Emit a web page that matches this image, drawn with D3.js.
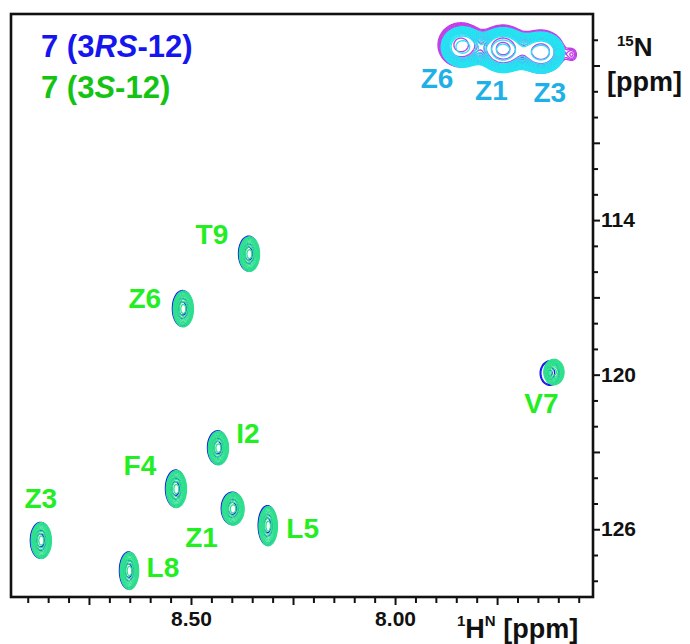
<!DOCTYPE html>
<html>
<head>
<meta charset="utf-8">
<title>1H-15N HSQC overlay</title>
<script src="https://d3js.org/d3.v7.min.js"></script>
<style>
  body { margin: 0; background: #fff; }
  text { font-family: "Liberation Sans", Arial, sans-serif; font-weight: bold; }
</style>
</head>
<body>
<script>
// backbone amide cross peaks: 1H (ppm), 15N (ppm)
const residues = ["Z3", "L8", "F4", "Z6", "Z1", "I2", "L5", "T9", "V7"];
// 7 (3RS-12), blue
const hRS = [8.870, 8.654, 8.539, 8.522, 8.400, 8.436, 8.314, 8.360, 7.622];
const nRS = [126.41, 127.58, 124.40, 117.41, 125.17, 122.81, 125.83, 115.28, 119.92];
const ampRS = [1, 1, 1, 1, 1, 1, 1, 1, 0.8];
// 7 (3S-12), green
const hS = [8.868, 8.652, 8.537, 8.520, 8.398, 8.434, 8.312, 8.358, 7.612];
const nS = [126.42, 127.60, 124.42, 117.43, 125.19, 122.83, 125.86, 115.30, 119.88];
const ampS = [1, 1, 1, 1, 1, 1, 1, 1, 1];
// line widths (ppm)
const lwH = [0.011, 0.010, 0.011, 0.011, 0.012, 0.011, 0.010, 0.011, 0.011];
const lwN = [0.31, 0.32, 0.32, 0.31, 0.28, 0.29, 0.34, 0.30, 0.22];

// side chain cluster at the top
const zRes = ["Z6", "Z1", "Z3"];
// 3S (cyan)
const zH = [7.836, 7.737, 7.643];
const zN = [107.26, 107.38, 107.48];
const zAmp = [0.8, 1.0, 0.85];
const zWH = [0.028, 0.03, 0.03];
const zWN = [0.42, 0.44, 0.42];
// 3RS (magenta), with a small extra peak at 7.566 ppm
const zHRS = [7.840, 7.737, 7.643, 7.566];
const zNRS = [107.18, 107.32, 107.44, 107.56];
const zAmpRS = [0.8, 1.0, 0.85, 0.17];
const zWHRS = [0.03, 0.03, 0.03, 0.012];
const zWNRS = [0.46, 0.46, 0.44, 0.25];

const xMajor = [8.75, 8.50, 8.25, 8.00, 7.75];
const xLabels = ["", "8.50", "", "8.00", ""];
const yMajor = [108, 111, 114, 117, 120, 123, 126];
const yLabels = ["", "", "114", "", "120", "", "126"];

const W = 690, H = 644;
const L = 11, R = 593, T = 14, B = 597;

const svg = d3.select("body").append("svg")
    .attr("width", W).attr("height", H);

const x = d3.scaleLinear().domain([8.941, 7.515]).range([L, R]);
const y = d3.scaleLinear().domain([106.0, 128.63]).range([T, B]);

svg.append("clipPath").attr("id", "plot")
  .append("rect").attr("x", L).attr("y", T).attr("width", R - L).attr("height", B - T);

const gw = R - L, gh = B - T;
const path = d3.geoPath(d3.geoIdentity().translate([L, T]));

// sum of gaussian peaks on a pixel grid
function field(hs, ns, sh, sn, amp) {
  const v = new Float64Array(gw * gh);
  hs.forEach((h, k) => {
    const cx = x(h) - L, cy = y(ns[k]) - T;
    const sx = Math.abs(x(h + sh[k]) - x(h)), sy = Math.abs(y(ns[k] + sn[k]) - y(ns[k]));
    const a = amp[k];
    const i0 = Math.max(0, Math.floor(cx - 5 * sx)), i1 = Math.min(gw - 1, Math.ceil(cx + 5 * sx));
    const j0 = Math.max(0, Math.floor(cy - 5 * sy)), j1 = Math.min(gh - 1, Math.ceil(cy + 5 * sy));
    for (let j = j0; j <= j1; j++) {
      for (let i = i0; i <= i1; i++) {
        const dx = (i - cx) / sx, dy = (j - cy) / sy;
        v[j * gw + i] += a * Math.exp(-0.5 * (dx * dx + dy * dy));
      }
    }
  });
  return v;
}

function drawContours(values, levels, color, width) {
  const cs = d3.contours().size([gw, gh]).thresholds(levels)(values);
  svg.append("g").attr("clip-path", "url(#plot)")
    .selectAll("path").data(cs).join("path")
    .attr("d", path)
    .attr("fill", "none")
    .attr("stroke", color)
    .attr("stroke-width", width);
}

const peakLevels = d3.range(10).map(k => 0.08 * Math.pow(1.3, k));
const blueLevels = [0.08, 0.11, 0.45, 0.7];
const zLevels = d3.range(12).map(k => 0.14 * Math.pow(1.12, k)).concat([0.68, 0.88, 1.08, 1.28]);

drawContours(field(hRS, nRS, lwH, lwN, ampRS), blueLevels, "#1a1aee", 1.4);
drawContours(field(hS, nS, lwH, lwN, ampS), peakLevels, "#2ee08e", 1.3);

drawContours(field(zHRS, zNRS, zWHRS, zWNRS, zAmpRS), zLevels, "#c23ee8", 1.3);
drawContours(field(zH, zN, zWH, zWN, zAmp), zLevels, "#22e6f2", 1.3);

// frame
svg.append("rect")
  .attr("x", L).attr("y", T).attr("width", R - L).attr("height", B - T)
  .attr("fill", "none").attr("stroke", "#111").attr("stroke-width", 2.6);

// bottom axis
const xMinor = d3.range(7.55, 8.93, 0.05).filter(v => !xMajor.some(m => Math.abs(m - v) < 1e-6));
const gx = svg.append("g").attr("transform", `translate(0,${B})`);
gx.append("g").call(d3.axisBottom(x).tickValues(xMinor).tickSize(6).tickFormat(""));
gx.append("g").call(d3.axisBottom(x).tickValues(xMajor).tickSize(8)
    .tickFormat((d, i) => xLabels[i]).tickPadding(6));
gx.selectAll(".domain").remove();
gx.selectAll("line").attr("stroke", "#111").attr("stroke-width", 2);
gx.selectAll("text").attr("font-size", 21).attr("fill", "#111");

// right axis
const yMinor = d3.range(107, 129, 1).filter(v => !yMajor.includes(v));
const gy = svg.append("g").attr("transform", `translate(${R},0)`);
gy.append("g").call(d3.axisRight(y).tickValues(yMinor).tickSize(5).tickFormat(""));
gy.append("g").call(d3.axisRight(y).tickValues(yMajor).tickSize(7)
    .tickFormat((d, i) => yLabels[i]).tickPadding(1));
gy.selectAll(".domain").remove();
gy.selectAll("line").attr("stroke", "#111").attr("stroke-width", 2);
gy.selectAll("text").attr("font-size", 21).attr("fill", "#111");

// axis titles
const tN = svg.append("text").attr("x", 617).attr("y", 56).attr("fill", "#111");
tN.append("tspan").attr("font-size", 15).attr("dy", -10).text("15");
tN.append("tspan").attr("font-size", 26).attr("dy", 10).text("N");
svg.append("text").attr("x", 607).attr("y", 91).attr("font-size", 27).attr("fill", "#111").text("[ppm]");

const tH = svg.append("text").attr("x", 457).attr("y", 638).attr("fill", "#111");
tH.append("tspan").attr("font-size", 15).attr("dy", -12).text("1");
tH.append("tspan").attr("font-size", 27).attr("dy", 12).text("H");
tH.append("tspan").attr("font-size", 15).attr("dy", -12).text("N");
tH.append("tspan").attr("font-size", 27).attr("dy", 12).text(" [ppm]");

// legend
const lg1 = svg.append("text").attr("x", 41).attr("y", 57).attr("font-size", 31).attr("fill", "#1515ee");
lg1.append("tspan").text("7 (3");
lg1.append("tspan").attr("font-style", "italic").text("RS");
lg1.append("tspan").text("-12)");
const lg2 = svg.append("text").attr("x", 41).attr("y", 98).attr("font-size", 31).attr("fill", "#14c314");
lg2.append("tspan").text("7 (3");
lg2.append("tspan").attr("font-style", "italic").text("S");
lg2.append("tspan").text("-12)");

// peak labels (offsets in px from the peak)
const labelOffset = {
  Z3: [0, -42], L8: [34, -4], F4: [-36, -24], Z6: [-38, -11], Z1: [-31, 29],
  I2: [30, -15], L5: [35, 2], T9: [-37, -20], V7: [-12, 31]
};
svg.append("g").selectAll("text").data(residues).join("text")
  .attr("x", (d, i) => x(hS[i]) + labelOffset[d][0])
  .attr("y", (d, i) => y(nS[i]) + labelOffset[d][1])
  .attr("dy", "0.36em")
  .attr("text-anchor", "middle")
  .attr("font-size", 28)
  .attr("fill", "#22ee22")
  .text(d => d);

const zOffset = { Z6: [-25, 31], Z1: [-11, 40], Z3: [9, 40] };
svg.append("g").selectAll("text").data(zRes).join("text")
  .attr("x", (d, i) => x(zH[i]) + zOffset[d][0])
  .attr("y", (d, i) => y(zN[i]) + zOffset[d][1])
  .attr("dy", "0.36em")
  .attr("text-anchor", "middle")
  .attr("font-size", 28)
  .attr("fill", "#1eb0e6")
  .text(d => d);
</script>
</body>
</html>
